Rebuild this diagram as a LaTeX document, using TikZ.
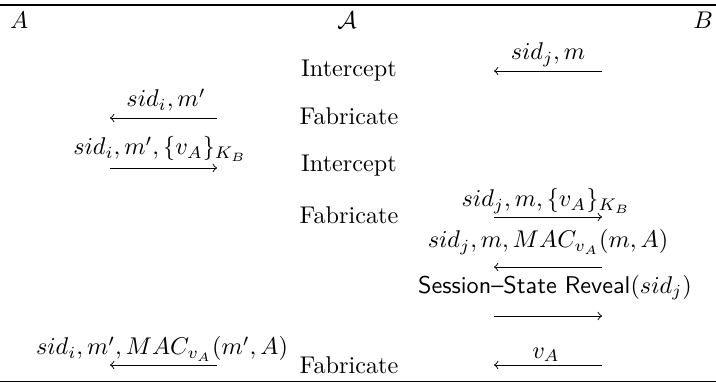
\documentclass[tikz,border=0pt]{standalone}
\usepackage{amsmath}
\begin{document}
\begin{tikzpicture}[x=0.4132pt,y=-0.4132pt,
  txt/.style={inner sep=0pt,outer sep=0pt,anchor=base},
  msg/.style={line width=0.4pt},
  tablerule/.style={line width=0.8pt}]
\useasboundingbox (0,0) rectangle (716,383);
% rules
\coordinate (tl) at (0,5);   \coordinate (tr) at (716,5);
\coordinate (bl) at (0,381.5); \coordinate (br) at (716,381.5);
\draw[tablerule] (tl) -- (tr);
\draw[tablerule] (bl) -- (br);
% header
\node[txt,anchor=base west] (hA) at (10,29) {$A$};
\node[txt] (hAdv) at (347,29) {$\mathcal{A}$};
\node[txt,anchor=base east] (hB) at (713,29) {$B$};
% adversary actions
\node[txt] (m1) at (349,77) {Intercept};
\node[txt] (m2) at (349,125) {Fabricate};
\node[txt] (m3) at (349,172) {Intercept};
\node[txt] (m4) at (349,224) {Fabricate};
\node[txt] (m7) at (349,373) {Fabricate};
% arrow end points
\coordinate (L2a) at (110,118); \coordinate (L2b) at (217,118);
\coordinate (L3a) at (110,168); \coordinate (L3b) at (217,168);
\coordinate (L7a) at (110,365); \coordinate (L7b) at (217,365);
\coordinate (R1a) at (494,71);  \coordinate (R1b) at (602,71);
\coordinate (R4a) at (494,217); \coordinate (R4b) at (602,217);
\coordinate (R5a) at (494,267); \coordinate (R5b) at (602,267);
\coordinate (R6a) at (494,316); \coordinate (R6b) at (602,316);
\coordinate (R7a) at (494,365); \coordinate (R7b) at (602,365);
% arrows
\draw[msg,<-] (R1a) -- (R1b);
\draw[msg,<-] (L2a) -- (L2b);
\draw[msg,->] (L3a) -- (L3b);
\draw[msg,->] (R4a) -- (R4b);
\draw[msg,<-] (R5a) -- (R5b);
\draw[msg,->] (R6a) -- (R6b);
\draw[msg,<-] (R7a) -- (R7b);
\draw[msg,<-] (L7a) -- (L7b);
% labels
\node[txt] (l1) at (548,60) {$sid_j, m$};
\node[txt] (l2) at (166,107) {$sid_i, m'$};
\node[txt] (l3) at (160,155) {$sid_i, m', \{v_A\}_{K_B}$};
\node[txt] (l4) at (546,207) {$sid_j, m, \{v_A\}_{K_B}$};
\node[txt] (l5) at (548,248) {$sid_j, m, MAC_{v_A}(m, A)$};
\node[txt] (l6) at (555,293) {$\textsf{Session--State Reveal}(sid_j)$};
\node[txt] (l7r) at (546,358) {$v_A$};
\node[txt] (l7l) at (162,355) {$sid_i, m', MAC_{v_A}(m', A)$};
\end{tikzpicture}
\end{document}
